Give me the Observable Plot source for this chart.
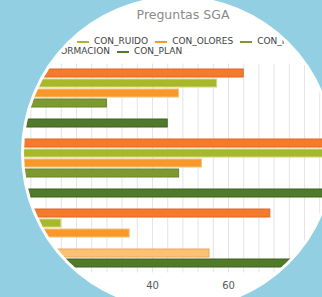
<!DOCTYPE html>
<html>
<head>
<meta charset="utf-8">
<script src="https://cdn.jsdelivr.net/npm/d3@7"></script>
<script src="https://cdn.jsdelivr.net/npm/@observablehq/plot@0.6"></script>
<style>
  html, body { margin: 0; padding: 0; background: #93cfe2; width: 322px; height: 297px; overflow: hidden; font-family: "DejaVu Sans", sans-serif; }
  #ring { position: absolute; left: 0; top: 0; width: 322px; height: 297px; background: #fff; clip-path: circle(157px at 178px 153px); }
  #card { position: absolute; left: 0; top: 0; width: 322px; height: 297px; background: #fff; overflow: hidden; clip-path: circle(154px at 178px 153px); }
  #chart { position: absolute; left: 0; top: 0; width: 400px; height: 297px; }
  #chart svg { max-width: none !important; }
  .title { position: absolute; top: 8.7px; left: 0; width: 366px; text-align: center; font-size: 12.5px; line-height: 1; color: #8a8a8a; white-space: nowrap; }
  .lrow { position: absolute; display: flex; align-items: center; gap: 7px; font-size: 9px; line-height: 1; color: #404040; white-space: nowrap; }
  .item { display: flex; align-items: center; gap: 5px; }
  .mk { display: inline-block; width: 12px; height: 2.5px; }
</style>
</head>
<body>
<div id="ring"></div>
<div id="card">
  <div id="chart"></div>
  <div class="title">Preguntas SGA</div>
  <div id="legend"></div>
</div>
<script>
// ---- data ----
const categories = ["Pregunta 1", "Pregunta 2", "Pregunta 3"];
const series = ["CON_AGUA", "CON_RUIDO", "CON_OLORES", "CON_RESIDUOS", "CON_FORMACION", "CON_PLAN"];
const valAgua      = [64, 92, 71];
const valRuido     = [57, 90, 16];
const valOlores    = [47, 53, 34];
const valResiduos  = [28, 47, 0];
const valFormacion = [0, 0, 55];
const valPlan      = [44, 95, 80];
const xTicks = [20, 40, 60, 80];
const fills   = ["#f47b2c", "#a8b82b", "#f8982b", "#7d9a30", "#fbc273", "#51792a"];
const strokes = ["#e0652a", "#d4d57a", "#f4c07c", "#67862a", "#e9a75a", "#3e6220"];

const values = [valAgua, valRuido, valOlores, valResiduos, valFormacion, valPlan];
const rows = categories.flatMap((c, i) => series.map((s, j) => ({
  cat: c, series: s, key: c + "|" + s, value: values[j][i], fill: fills[j], stroke: strokes[j]
})));
const yDomain = categories.flatMap((c, i) => [...(i ? ["gap" + i] : []), ...series.map(s => c + "|" + s)]);

const chart = Plot.plot({
  width: 400,
  height: 297,
  marginLeft: 0,
  marginRight: 20,
  marginTop: 63.5,
  marginBottom: 24.5,
  style: { fontFamily: "DejaVu Sans, sans-serif", fontSize: "10px", color: "#595959", background: "transparent", maxWidth: "none" },
  x: { domain: [0, 100], ticks: xTicks, tickSize: 0, tickPadding: 9, label: null },
  y: { domain: yDomain, axis: null, paddingInner: 0.25, paddingOuter: 0.5 },
  color: { type: "identity" },
  marks: [
    Plot.ruleX(d3.range(0, 101, 4), { stroke: "#e4e4e4", strokeWidth: 1 }),
    Plot.barX(rows.filter(d => d.value > 0), { x: "value", y: "key", fill: "fill", stroke: "stroke", strokeWidth: 1 })
  ]
});
document.getElementById("chart").appendChild(chart);

// ---- legend ----
function item(name) {
  const j = series.indexOf(name);
  const el = document.createElement("div");
  el.className = "item";
  el.innerHTML = `<span class="mk" style="background:${fills[j]}"></span><span>${name}</span>`;
  return el;
}
function row(names, style) {
  const r = document.createElement("div");
  r.className = "lrow";
  Object.assign(r.style, style);
  names.forEach(n => r.appendChild(item(n)));
  document.getElementById("legend").appendChild(r);
}
row([series[0]], { top: "37.4px", right: "252px" });
row([series[1], series[2], series[3]], { top: "37.4px", left: "77px" });
row([series[4]], { top: "47.4px", right: "212px" });
row([series[5]], { top: "47.4px", left: "117px" });
</script>
</body>
</html>
